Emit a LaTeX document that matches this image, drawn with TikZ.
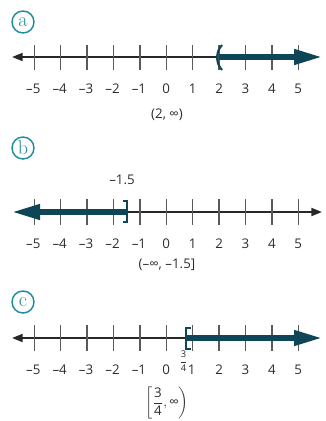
\documentclass[tikz,border=0pt]{standalone}
\usepackage{amsmath}
\usepackage{fontspec}
\setsansfont{Open Sans}
\usetikzlibrary{arrows.meta}
\definecolor{ringc}{RGB}{30,140,155}
\definecolor{thickc}{RGB}{14,70,88}
\definecolor{tickc}{RGB}{90,90,90}
\definecolor{axisc}{RGB}{40,40,40}
\definecolor{textc}{RGB}{45,45,45}
\begin{document}
\begin{tikzpicture}[x=0.75pt,y=-0.75pt,
  every node/.style={font=\sffamily\fontsize{10}{12}\selectfont,text=textc},
  ring/.style={circle,draw=ringc,line width=1.1pt,minimum size=16.5pt,inner sep=0pt,text=ringc,font=\rmfamily\fontsize{15}{15}\selectfont},
  axisline/.style={draw=axisc,line width=1.4pt},
  tickline/.style={draw=tickc,line width=1pt},
  solarrow/.style={draw=thickc,line width=4pt,-{Triangle[length=21pt,width=11pt]}},
  endmark/.style={draw=thickc,line width=1.6pt},
  ticklabel/.style={inner sep=1pt},
  intlabel/.style={inner sep=1pt}]
\useasboundingbox (0,0) rectangle (325,421);
% ---------- (a)
\node[ring] (ra) at (23,22) {a};
\coordinate (aL) at (12,57);
\coordinate (aR) at (300,57);
\coordinate (aS) at (219,57);
\coordinate (aE) at (322,57);
\draw[axisline,{Triangle[length=8pt,width=6pt]}-] (aL) -- (aR);
\foreach \i in {-5,...,5}{
  \draw[tickline] ({166.3+26.4*\i},45) -- ({166.3+26.4*\i},70);
  \ifnum\i<0
    \node[ticklabel] at ({166.3+26.4*\i-1},89) {–\the\numexpr-\i\relax};
  \else
    \node[ticklabel] at ({166.3+26.4*\i},89) {\i};
  \fi
}
\draw[solarrow] (aS) -- (aE);
\draw[endmark] (222,45) .. controls (215.5,52) and (215.5,63) .. (222,70);
\node[intlabel] (ia) at (167,115) {(2, ∞)};
% ---------- (b)
\node[ring] (rb) at (23,148) {b};
\node[intlabel] (lb) at (122,180) {–1.5};
\coordinate (bL) at (25,212);
\coordinate (bR) at (322,212);
\coordinate (bS) at (127,212);
\coordinate (bE) at (12,212);
\draw[axisline,-{Triangle[length=8pt,width=6pt]}] (bL) -- (bR);
\foreach \i in {-5,...,5}{
  \draw[tickline] ({166.3+26.4*\i},199) -- ({166.3+26.4*\i},225);
  \ifnum\i<0
    \node[ticklabel] at ({166.3+26.4*\i-1},244) {–\the\numexpr-\i\relax};
  \else
    \node[ticklabel] at ({166.3+26.4*\i},244) {\i};
  \fi
}
\draw[solarrow] (bS) -- (bE);
\draw[endmark] (122.5,201) -- (127,201) -- (127,222) -- (122.5,222);
\node[intlabel] (ib) at (167,265) {(–∞, –1.5]};
% ---------- (c)
\node[ring] (rc) at (23,302) {c};
\coordinate (cL) at (12,338);
\coordinate (cR) at (300,338);
\coordinate (cS) at (186,338);
\coordinate (cE) at (322,338);
\draw[axisline,{Triangle[length=8pt,width=6pt]}-] (cL) -- (cR);
\foreach \i in {-5,...,5}{
  \draw[tickline] ({166.3+26.4*\i},325) -- ({166.3+26.4*\i},351);
  \ifnum\i<0
    \node[ticklabel] at ({166.3+26.4*\i-1},370) {–\the\numexpr-\i\relax};
  \else
    \ifnum\i=1
      \node[ticklabel] at ({166.3+26.4*\i-1},370) {\i};
    \else
      \node[ticklabel] at ({166.3+26.4*\i},370) {\i};
    \fi
  \fi
}
\draw[solarrow] (cS) -- (cE);
\draw[endmark] (190.5,328) -- (186,328) -- (186,349) -- (190.5,349);
\node[inner sep=0pt,font=\sffamily\fontsize{7}{8}\selectfont] (fc) at (183.5,361) {$\dfrac{\text{3}}{\text{4}}$};
\node[intlabel] (ic) at (167,403) {$\left[\dfrac{\text{3}}{\text{4}}, \text{∞}\right)$};
\end{tikzpicture}
\end{document}
